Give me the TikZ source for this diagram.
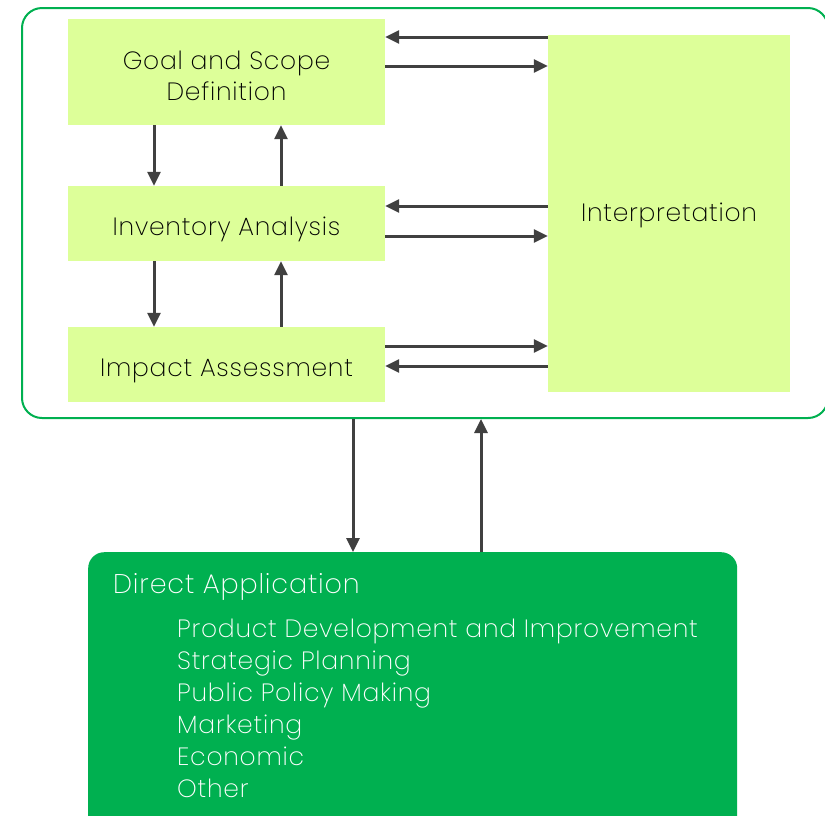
\documentclass[tikz,border=0pt]{standalone}
\usepackage{fontspec}
\setmainfont{Poppins}[UprightFont={* ExtraLight}, LetterSpace=3]
\usetikzlibrary{calc,positioning,arrows.meta,shapes}
\definecolor{lcagreen}{HTML}{00B050}
\definecolor{lcalight}{HTML}{DDFF99}
\definecolor{lcaarrow}{HTML}{404040}
\tikzstyle{phase} = [fill=lcalight, rectangle, inner sep=0pt,
    minimum width=317pt, align=center, text height=26pt, text depth=3pt,
    font=\fontsize{25}{31}\selectfont]
\tikzstyle{frame} = [draw=lcagreen, line width=2pt, rectangle, rounded corners=20pt]
\tikzstyle{appbox} = [fill=lcagreen, rectangle, rounded corners=16pt, inner sep=0pt]
\tikzstyle{arr} = [->, line width=3pt, draw=lcaarrow]
\tikzstyle{apptext} = [anchor=west, inner sep=0pt, text=white,
    font=\fontsize{25}{32}\selectfont]

\begin{document}
\begin{tikzpicture}[x=1pt, y=-1pt, >={Triangle[length=14pt,width=13pt]}]
\useasboundingbox (0,0) rectangle (825,815);

\node (lca) [frame, minimum width=806pt, minimum height=410pt, anchor=north west] at (21,7) {};

\node (goal) [phase, text height={}, text depth={}, minimum height=106pt] at (226.5,72)
    {\raisebox{-7pt}[\height][\depth]{\begin{tabular}{@{}c@{}}Goal and Scope\\Definition\end{tabular}}};
\node (inv) [phase, minimum height=75pt] at (226.5,223.5) {Inventory Analysis};
\node (impact) [phase, minimum height=75pt] at (226.5,364.5) {Impact Assessment};
\node (interp) [phase, text height=18pt, minimum width=242pt, minimum height=357pt] at (669,213.5) {Interpretation};

% rows of the horizontal arrows
\coordinate (row_goal_in) at (0,37);
\coordinate (row_goal_out) at (0,66);
\coordinate (row_inv_in) at (0,206);
\coordinate (row_inv_out) at (0,236);
\coordinate (row_imp_out) at (0,346);
\coordinate (row_imp_in) at (0,366);

\draw[arr] (interp.west |- row_goal_in) -- (goal.east |- row_goal_in);
\draw[arr] (goal.east |- row_goal_out) -- (interp.west |- row_goal_out);
\draw[arr] (interp.west |- row_inv_in) -- (inv.east |- row_inv_in);
\draw[arr] (inv.east |- row_inv_out) -- (interp.west |- row_inv_out);
\draw[arr] (impact.east |- row_imp_out) -- (interp.west |- row_imp_out);
\draw[arr] (interp.west |- row_imp_in) -- (impact.east |- row_imp_in);

% columns of the vertical arrows
\coordinate (col_down) at (154,0);
\coordinate (col_up) at (281,0);
\draw[arr] (goal.south -| col_down) -- (inv.north -| col_down);
\draw[arr] (inv.north -| col_up) -- (goal.south -| col_up);
\draw[arr] (inv.south -| col_down) -- (impact.north -| col_down);
\draw[arr] (impact.north -| col_up) -- (inv.south -| col_up);

\node (app) [appbox, minimum width=649pt, minimum height=290pt, anchor=north west] at (88,552) {};

\coordinate (col_app_down) at (353,0);
\coordinate (col_app_up) at (481,0);
\draw[arr] (lca.south -| col_app_down) -- (app.north -| col_app_down);
\draw[arr] (app.north -| col_app_up) -- (lca.south -| col_app_up);

\node (apptitle) [apptext, font=\fontsize{27}{32}\selectfont] at (113,587) {Direct Application};
\node (applist) [apptext, anchor=north west, align=left] at (177,619)
    {Product Development and Improvement\\Strategic Planning\\Public Policy Making\\Marketing\\Economic\\Other};

\end{tikzpicture}
\end{document}
